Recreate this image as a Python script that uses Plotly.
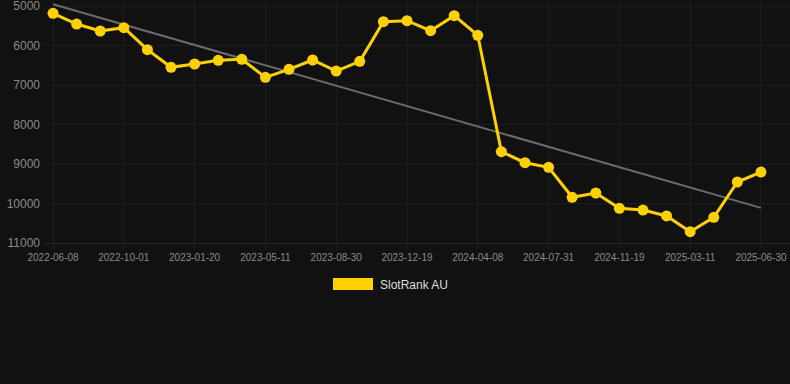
import plotly.graph_objects as go

# Data (rank values; y axis is reversed)
tick_labels = ["2022-06-08", "2022-10-01", "2023-01-20", "2023-05-11", "2023-08-30",
               "2023-12-19", "2024-04-08", "2024-07-31", "2024-11-19", "2025-03-11", "2025-06-30"]
rank_values = [5185, 5456, 5633, 5549, 6106, 6552, 6468, 6375, 6350, 6806,
               6603, 6367, 6646, 6401, 5397, 5372, 5625, 5245, 5742, 8688,
               8967, 9084, 9843, 9734, 10122, 10165, 10316, 10713, 10350, 9456, 9203]
trend_values = [4955, 10110]
y_ticks = [5000, 6000, 7000, 8000, 9000, 10000, 11000]
series_name = "SlotRank AU"

idx = list(range(len(rank_values)))
tick_idx = list(range(0, len(rank_values), 3))

GOLD = "#FFD100"
fig = go.Figure()
fig.add_trace(go.Scatter(
    x=[0, len(rank_values) - 1], y=trend_values, mode="lines",
    line=dict(color="#6b6b6b", width=2), hoverinfo="skip", showlegend=False))
fig.add_trace(go.Scatter(
    x=idx, y=rank_values, mode="lines+markers", name=series_name,
    line=dict(color=GOLD, width=3), marker=dict(color=GOLD, size=11),
    showlegend=False))

# manual legend (box swatch + label)
fig.add_shape(type="rect", xref="paper", yref="paper",
              x0=(333 - 45) / 745, x1=(373 - 45) / 745,
              y0=(243 - 290) / 243, y1=(243 - 278) / 243,
              fillcolor=GOLD, line=dict(width=0))
fig.add_annotation(text=series_name, xref="paper", yref="paper",
                   x=(378 - 45) / 745, y=(243 - 284.5) / 243,
                   xanchor="left", yanchor="middle", showarrow=False,
                   font=dict(size=12, color="#dddddd"))

fig.update_layout(
    width=790, height=384,
    margin=dict(l=45, r=0, t=0, b=141),
    paper_bgcolor="#111111", plot_bgcolor="#111111",
    font=dict(family="Liberation Sans, Arial, sans-serif", color="#888888"),
    xaxis=dict(range=[-0.34, 31.23], tickvals=tick_idx, ticktext=tick_labels,
               tickfont=dict(size=10, color="#8a8a8a"),
               showgrid=True, gridcolor="#1c1c1c", gridwidth=1,
               ticks="outside", ticklen=5, tickcolor="#1c1c1c",
               zeroline=False, showline=True, linecolor="#262626", linewidth=1,
               ticklabeloverflow="allow"),
    yaxis=dict(range=[11000, 4848], tickvals=y_ticks, tickformat="d",
               tickfont=dict(size=12, color="#8a8a8a"),
               showgrid=True, gridcolor="#1c1c1c", gridwidth=1,
               zeroline=False, showline=False, ticks="", ticklabelstandoff=4,
               ticklabeloverflow="allow"),
    showlegend=False,
)

fig.write_html("out.html", config={"displayModeBar": False},
               post_script="document.body.style.margin='0';")
